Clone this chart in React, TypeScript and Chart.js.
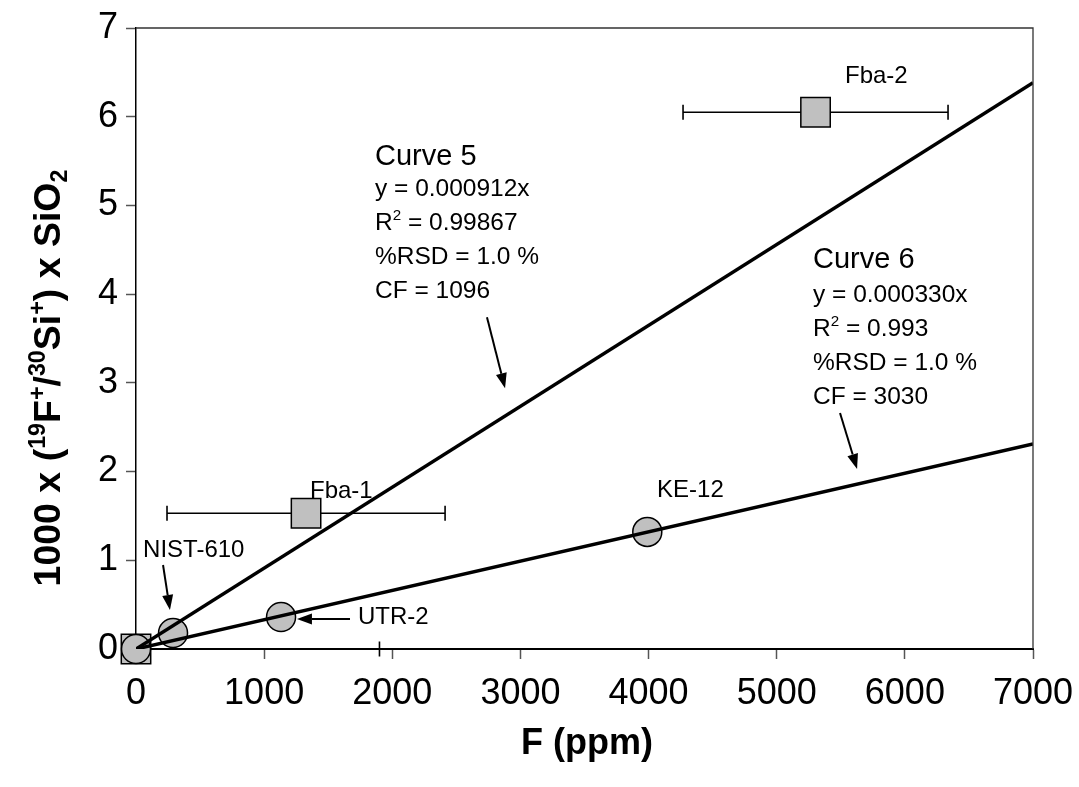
import { useEffect, useRef } from 'react';
import { Chart, registerables } from 'chart.js';

Chart.register(...registerables);

// ---- data ----
const standardNames = ['Origin', 'NIST-610', 'UTR-2', 'KE-12'];
const standardF = [0, 289, 1132, 3990];
const standardRatio = [0, 0.18, 0.36, 1.32];

const unknownNames = ['Origin', 'Fba-1', 'Fba-2'];
const unknownF = [0, 1327, 5303];
const unknownRatio = [0, 1.53, 6.05];
const unknownFErr = [1900, 1085, 1034];

const fitF = [0, 7000];
const curve5Ratio = [0, 6.384];
const curve6Ratio = [0, 2.31];

const xTickValues = [0, 1000, 2000, 3000, 4000, 5000, 6000, 7000];
const yTickValues = [0, 1, 2, 3, 4, 5, 6, 7];

const curve5Lines = ['y = 0.000912x', 'R2 = 0.99867', '%RSD = 1.0 %', 'CF = 1096'];
const curve6Lines = ['y = 0.000330x', 'R2 = 0.993', '%RSD = 1.0 %', 'CF = 3030'];

const FONT = '"Liberation Sans", Arial, sans-serif';
const W = 1079;
const H = 787;

type Seg = [string, number]; // 0 normal, 1 sup, 2 sub

function richWidth(ctx: CanvasRenderingContext2D, segs: Seg[], size: number, bold: boolean) {
  let w = 0;
  for (const [t, k] of segs) {
    const s = k === 0 ? size : size * 0.62;
    ctx.font = `${bold ? 'bold ' : ''}${s}px ${FONT}`;
    w += ctx.measureText(t).width;
  }
  return w;
}

function drawRich(ctx: CanvasRenderingContext2D, segs: Seg[], x: number, y: number, size: number, bold: boolean, align: 'left' | 'center') {
  let cx = x;
  if (align === 'center') cx = x - richWidth(ctx, segs, size, bold) / 2;
  ctx.textAlign = 'left';
  ctx.textBaseline = 'alphabetic';
  for (const [t, k] of segs) {
    const s = k === 0 ? size : size * 0.62;
    ctx.font = `${bold ? 'bold ' : ''}${s}px ${FONT}`;
    const dy = k === 1 ? -size * 0.4 : k === 2 ? size * 0.18 : 0;
    ctx.fillText(t, cx, y + dy);
    cx += ctx.measureText(t).width;
  }
}

function parseLine(line: string): Seg[] {
  if (line.startsWith('R2')) return [['R', 0], ['2', 1], [line.slice(2), 0]];
  return [[line, 0]];
}

function arrow(ctx: CanvasRenderingContext2D, x1: number, y1: number, x2: number, y2: number) {
  const ang = Math.atan2(y2 - y1, x2 - x1);
  const hl = 15;
  const hw = 5.5;
  const bx = x2 - hl * Math.cos(ang);
  const by = y2 - hl * Math.sin(ang);
  ctx.beginPath();
  ctx.moveTo(x1, y1);
  ctx.lineTo(bx, by);
  ctx.lineWidth = 2;
  ctx.strokeStyle = '#000';
  ctx.stroke();
  ctx.beginPath();
  ctx.moveTo(x2, y2);
  ctx.lineTo(bx + hw * Math.sin(ang), by - hw * Math.cos(ang));
  ctx.lineTo(bx - hw * Math.sin(ang), by + hw * Math.cos(ang));
  ctx.closePath();
  ctx.fillStyle = '#000';
  ctx.fill();
}

const annotPlugin = {
  id: 'annot',
  beforeDatasetsDraw(chart: any) {
    const { ctx, chartArea: ca, scales } = chart;
    const xs = scales.x;
    const ys = scales.y;
    ctx.save();
    ctx.beginPath();
    ctx.rect(ca.left - 1, 0, ca.right - ca.left + 2, H);
    ctx.clip();
    ctx.strokeStyle = '#000';
    ctx.lineWidth = 1.6;
    for (let i = 0; i < unknownF.length; i++) {
      const y = ys.getPixelForValue(unknownRatio[i]);
      const x1 = xs.getPixelForValue(unknownF[i] - unknownFErr[i]);
      const x2 = xs.getPixelForValue(unknownF[i] + unknownFErr[i]);
      ctx.beginPath();
      ctx.moveTo(x1, y);
      ctx.lineTo(x2, y);
      ctx.moveTo(x1, y - 7.5);
      ctx.lineTo(x1, y + 7.5);
      ctx.moveTo(x2, y - 7.5);
      ctx.lineTo(x2, y + 7.5);
      ctx.stroke();
    }
    ctx.restore();
  },
  afterDatasetsDraw(chart: any) {
    const { ctx, chartArea: ca, scales } = chart;
    const xs = scales.x;
    const ys = scales.y;
    const px = (v: number) => xs.getPixelForValue(v);
    const py = (v: number) => ys.getPixelForValue(v);
    ctx.save();
    // top and right frame
    ctx.strokeStyle = '#333';
    ctx.lineWidth = 1.3;
    ctx.beginPath();
    ctx.moveTo(ca.left, ca.top);
    ctx.lineTo(ca.right, ca.top);
    ctx.lineTo(ca.right, ca.bottom);
    ctx.stroke();

    ctx.fillStyle = '#000';
    // Curve 5 block
    let x0 = px(1865);
    let y0 = py(5.456);
    ctx.font = `29px ${FONT}`;
    ctx.textAlign = 'left';
    ctx.textBaseline = 'alphabetic';
    ctx.fillText('Curve 5', x0, y0);
    curve5Lines.forEach((l, i) => drawRich(ctx, parseLine(l), x0, y0 + 31 + i * 34, 24.5, false, 'left'));
    // Curve 6 block
    x0 = px(5283);
    y0 = py(4.295);
    ctx.font = `29px ${FONT}`;
    ctx.fillText('Curve 6', x0, y0);
    curve6Lines.forEach((l, i) => drawRich(ctx, parseLine(l), x0, y0 + 34 + i * 34, 24.5, false, 'left'));

    // point labels
    ctx.font = `24px ${FONT}`;
    ctx.fillText(unknownNames[2], px(5533), py(6.38));
    ctx.fillText(unknownNames[1], px(1358), py(1.70));
    ctx.fillText(standardNames[3], px(4066), py(1.713));
    ctx.fillText(standardNames[1], px(55), py(1.037));
    ctx.fillText(standardNames[2], px(1732), py(0.282));

    // arrows
    arrow(ctx, px(2739), py(3.74), px(2880), py(2.94));
    arrow(ctx, px(5494), py(2.66), px(5627), py(2.03));
    arrow(ctx, px(211), py(0.947), px(265), py(0.44));
    arrow(ctx, px(1670), py(0.338), px(1256), py(0.338));
    ctx.restore();
  },
  afterDraw(chart: any) {
    const { ctx } = chart;
    ctx.save();
    ctx.fillStyle = '#000';
    // x title
    drawRich(ctx, [['F (ppm)', 0]], 587, 754, 36, true, 'center');
    // y title
    ctx.translate(60, 378);
    ctx.rotate(-Math.PI / 2);
    drawRich(
      ctx,
      [
        ['1000 x (', 0],
        ['19', 1],
        ['F', 0],
        ['+', 1],
        ['/', 0],
        ['30', 1],
        ['Si', 0],
        ['+', 1],
        [') x SiO', 0],
        ['2', 2],
      ],
      0,
      0,
      37.5,
      true,
      'center'
    );
    ctx.restore();
  },
};

export default function App() {
  const ref = useRef<HTMLCanvasElement | null>(null);
  useEffect(() => {
    document.body.style.margin = '0';
    const canvas = ref.current;
    if (!canvas) return;
    const chart = new Chart(canvas, {
      type: 'scatter',
      data: {
        datasets: [
          {
            type: 'line',
            label: 'Curve 5',
            data: fitF.map((x, i) => ({ x, y: curve5Ratio[i] })),
            borderColor: '#000',
            borderWidth: 3.5,
            pointRadius: 0,
            fill: false,
          } as any,
          {
            type: 'line',
            label: 'Curve 6',
            data: fitF.map((x, i) => ({ x, y: curve6Ratio[i] })),
            borderColor: '#000',
            borderWidth: 3.5,
            pointRadius: 0,
            fill: false,
          } as any,
          {
            label: 'Standards',
            data: standardF.map((x, i) => ({ x, y: standardRatio[i] })),
            pointStyle: 'circle',
            pointRadius: 14.5,
            backgroundColor: '#c0c0c0',
            borderColor: '#000',
            borderWidth: 1.5,
            clip: false,
          } as any,
          {
            label: 'Unknowns',
            data: unknownF.map((x, i) => ({ x, y: unknownRatio[i] })),
            pointStyle: 'rect',
            pointRadius: 20.8,
            backgroundColor: '#c0c0c0',
            borderColor: '#000',
            borderWidth: 1.5,
            clip: false,
          } as any,
        ],
      },
      options: {
        animation: false,
        responsive: false,
        maintainAspectRatio: false,
        devicePixelRatio: 1,
        layout: { padding: { top: 28, right: 46, left: 0, bottom: 0 } },
        plugins: { legend: { display: false }, tooltip: { enabled: false }, title: { display: false } },
        scales: {
          x: {
            type: 'linear',
            min: 0,
            max: 7000,
            afterBuildTicks: (s: any) => {
              s.ticks = xTickValues.map((v) => ({ value: v }));
            },
            afterFit: (s: any) => {
              s.height = H - 649;
              s.paddingLeft = 0;
              s.paddingRight = 0;
            },
            ticks: {
              color: '#000',
              font: { size: 36, family: FONT },
              padding: 13,
              maxRotation: 0,
              autoSkip: false,
              callback: (v: any) => String(v),
            },
            grid: { drawOnChartArea: false, tickLength: 10, tickColor: '#555', tickWidth: 1.5 },
            border: { color: '#000', width: 2 },
          },
          y: {
            type: 'linear',
            min: 0,
            max: 7,
            afterBuildTicks: (s: any) => {
              s.ticks = yTickValues.map((v) => ({ value: v }));
            },
            afterFit: (s: any) => {
              s.width = 136;
              s.paddingTop = 0;
              s.paddingBottom = 0;
            },
            ticks: {
              color: '#000',
              font: { size: 36, family: FONT },
              padding: 8,
              autoSkip: false,
              callback: (v: any) => String(v),
            },
            grid: { drawOnChartArea: false, tickLength: 10, tickColor: '#555', tickWidth: 1.5 },
            border: { color: '#000', width: 1.5 },
          },
        },
      },
      plugins: [annotPlugin],
    } as any);
    return () => chart.destroy();
  }, []);
  return (
    <div style={{ position: 'absolute', left: 0, top: 0, width: W, height: H, background: '#fff' }}>
      <canvas ref={ref} width={W} height={H} style={{ width: W, height: H, display: 'block' }} />
    </div>
  );
}
